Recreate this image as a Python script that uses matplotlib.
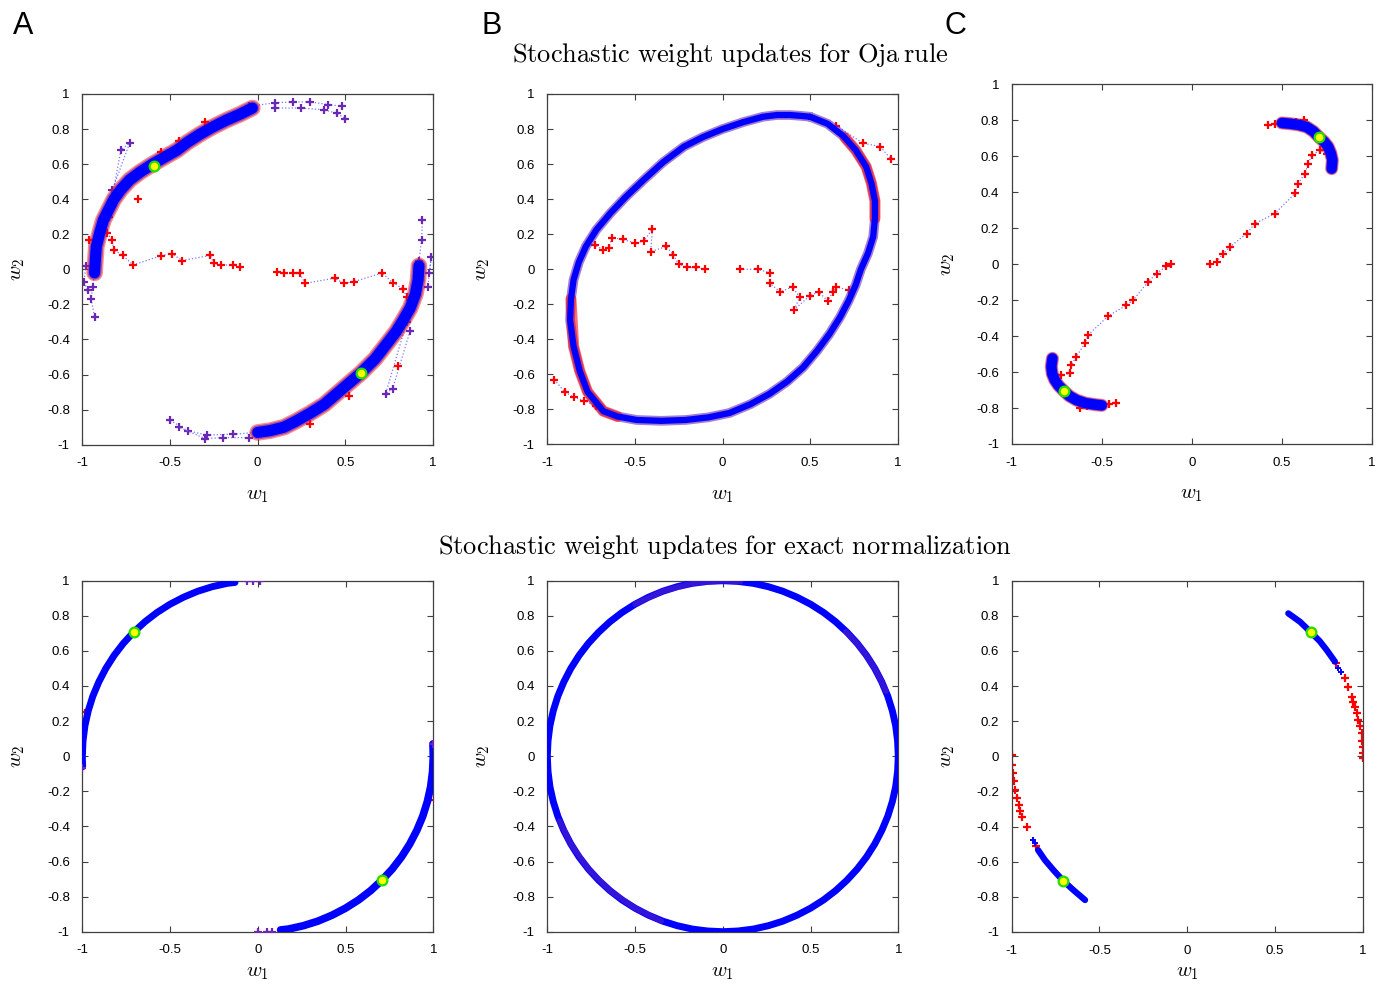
import matplotlib
matplotlib.use("Agg")
import matplotlib.pyplot as plt

plt.rcParams['mathtext.fontset'] = 'cm'
plt.rcParams['axes.unicode_minus'] = False
plt.rcParams['font.family'] = ['Liberation Sans', 'DejaVu Sans']
plt.rcParams['lines.solid_joinstyle'] = 'round'
plt.rcParams['lines.solid_capstyle'] = 'round'
plt.rcParams['path.simplify'] = False

BLUE = '#0000ff'
RED = '#ff0000'
PURPLE = '#6a28b4'
DOTS = '#7878ff'

# ---- Oja rule, panel A ----
oja_a_upper_w1 = [-0.93, -0.925, -0.92, -0.90, -0.88, -0.85, -0.82, -0.78, -0.73, -0.67,
                  -0.60, -0.53, -0.46, -0.40, -0.33, -0.26, -0.18, -0.10, -0.03]
oja_a_upper_w2 = [-0.02, 0.06, 0.13, 0.21, 0.28, 0.34, 0.40, 0.455, 0.51, 0.555,
                  0.60, 0.64, 0.68, 0.725, 0.77, 0.81, 0.85, 0.885, 0.92]
oja_a_lower_w1 = [0.92, 0.915, 0.90, 0.87, 0.83, 0.79, 0.74, 0.67, 0.59, 0.52, 0.45,
                  0.38, 0.30, 0.22, 0.15, 0.07, 0.00]
oja_a_lower_w2 = [0.02, -0.06, -0.14, -0.22, -0.29, -0.355, -0.42, -0.51, -0.59, -0.65,
                  -0.71, -0.77, -0.82, -0.865, -0.90, -0.92, -0.93]
oja_a_tails = [
    ([-0.05, 0.10, 0.20, 0.30, 0.40, 0.48], [0.93, 0.95, 0.955, 0.955, 0.94, 0.93]),
    ([0.10, 0.25, 0.38, 0.45, 0.50], [0.92, 0.92, 0.91, 0.89, 0.86]),
    ([-0.93, -0.94, -0.95, -0.93], [0.00, -0.10, -0.17, -0.27]),
    ([-0.98, -0.99, -0.97], [0.02, -0.07, -0.12]),
    ([-0.85, -0.78, -0.73, -0.83], [0.30, 0.68, 0.72, 0.45]),
    ([0.00, -0.14, -0.29, -0.40, -0.50], [-0.93, -0.94, -0.945, -0.92, -0.86]),
    ([-0.05, -0.20, -0.30, -0.45], [-0.96, -0.96, -0.965, -0.90]),
    ([0.92, 0.935, 0.94], [0.05, 0.17, 0.28]),
    ([0.98, 0.99, 0.97], [-0.02, 0.07, -0.10]),
    ([0.85, 0.73, 0.77, 0.87], [-0.30, -0.71, -0.68, -0.35]),
]
oja_a_red = [
    ([-0.10, -0.14, -0.21, -0.25, -0.27, -0.43, -0.49, -0.55, -0.71, -0.77, -0.82, -0.83, -0.86],
     [0.015, 0.025, 0.025, 0.034, 0.08, 0.05, 0.09, 0.078, 0.025, 0.08, 0.11, 0.17, 0.205]),
    ([0.11, 0.15, 0.20, 0.24, 0.27, 0.44, 0.49, 0.55, 0.71, 0.77, 0.83, 0.85],
     [-0.013, -0.02, -0.02, -0.023, -0.08, -0.05, -0.08, -0.07, -0.02, -0.076, -0.11, -0.16]),
]
oja_a_specks_w1 = [-0.55, -0.45, -0.68, -0.96, -0.30, 0.80, 0.52, 0.40, 0.88, 0.30]
oja_a_specks_w2 = [0.67, 0.73, 0.40, 0.17, 0.84, -0.55, -0.72, -0.77, -0.17, -0.88]
oja_a_fixed = ([-0.59, 0.59], [0.59, -0.59])

# ---- Oja rule, panel B ----
oja_b_loop_w1 = [0.50, 0.60, 0.69, 0.76, 0.82, 0.85, 0.87, 0.87, 0.86, 0.83, 0.79, 0.76,
                 0.72, 0.67, 0.61, 0.54, 0.46, 0.37, 0.27, 0.16, 0.04, -0.08, -0.21, -0.35,
                 -0.49, -0.60, -0.68, -0.77, -0.815, -0.85, -0.87, -0.865, -0.85, -0.82,
                 -0.78, -0.72, -0.64, -0.55, -0.45, -0.34, -0.22, -0.11, 0.00, 0.12, 0.23,
                 0.31, 0.385, 0.45, 0.50]
oja_b_loop_w2 = [0.87, 0.83, 0.76, 0.68, 0.585, 0.49, 0.39, 0.29, 0.185, 0.09, 0.00, -0.09,
                 -0.18, -0.275, -0.37, -0.465, -0.56, -0.64, -0.71, -0.77, -0.82, -0.845,
                 -0.86, -0.865, -0.86, -0.84, -0.81, -0.70, -0.58, -0.44, -0.29, -0.17,
                 -0.06, 0.04, 0.13, 0.225, 0.32, 0.415, 0.51, 0.61, 0.70, 0.755, 0.80, 0.84,
                 0.87, 0.88, 0.88, 0.875, 0.87]
oja_b_red = [
    ([-0.10, -0.15, -0.20, -0.25, -0.28, -0.32, -0.41, -0.40, -0.45, -0.50, -0.57, -0.63,
      -0.65, -0.68, -0.73],
     [0.00, 0.01, 0.01, 0.03, 0.08, 0.13, 0.10, 0.23, 0.16, 0.15, 0.17, 0.18, 0.12, 0.11, 0.14]),
    ([0.10, 0.20, 0.27, 0.27, 0.33, 0.40, 0.44, 0.41, 0.50, 0.55, 0.60, 0.63, 0.65, 0.72],
     [0.00, 0.00, -0.02, -0.08, -0.13, -0.10, -0.16, -0.23, -0.15, -0.13, -0.18, -0.13,
      -0.10, -0.12]),
    ([0.65, 0.80, 0.90, 0.96], [0.82, 0.72, 0.70, 0.63]),
    ([-0.96, -0.90, -0.85, -0.79, -0.72], [-0.63, -0.70, -0.73, -0.75, -0.78]),
]
oja_b_fringe_w1 = [0.70, 0.76, 0.82, 0.85, 0.87, 0.87]
oja_b_fringe_w2 = [0.75, 0.68, 0.585, 0.49, 0.39, 0.29]
oja_b_fringe2_w1 = [-0.865, -0.85, -0.815, -0.77, -0.68, -0.60]
oja_b_fringe2_w2 = [-0.17, -0.44, -0.58, -0.70, -0.81, -0.84]

# ---- Oja rule, panel C ----
oja_c_upper_w1 = [0.50, 0.544, 0.59, 0.637, 0.675, 0.705, 0.735, 0.757, 0.772, 0.78, 0.776]
oja_c_upper_w2 = [0.785, 0.781, 0.775, 0.763, 0.738, 0.707, 0.68, 0.652, 0.615, 0.578, 0.531]
oja_c_lower_w1 = [-0.50, -0.53, -0.59, -0.64, -0.68, -0.709, -0.74, -0.761, -0.775, -0.78,
                  -0.774]
oja_c_lower_w2 = [-0.785, -0.782, -0.773, -0.756, -0.733, -0.706, -0.675, -0.644, -0.61,
                  -0.57, -0.524]
oja_c_red = [
    ([0.10, 0.137, 0.174, 0.211, 0.304, 0.35, 0.461, 0.572, 0.59, 0.628, 0.646, 0.665,
      0.711, 0.748],
     [0.00, 0.013, 0.059, 0.096, 0.17, 0.226, 0.281, 0.393, 0.448, 0.504, 0.559, 0.606,
      0.633, 0.615]),
    ([-0.113, -0.141, -0.196, -0.243, -0.326, -0.363, -0.465, -0.576, -0.594, -0.641,
      -0.669, -0.678, -0.724, -0.77],
     [0.00, -0.011, -0.052, -0.098, -0.20, -0.228, -0.289, -0.394, -0.441, -0.515, -0.561,
      -0.607, -0.617, -0.60]),
    ([0.42, 0.46, 0.50, 0.58, 0.62], [0.772, 0.78, 0.785, 0.79, 0.80]),
    ([-0.42, -0.46, -0.50, -0.58, -0.62], [-0.772, -0.78, -0.785, -0.79, -0.80]),
]
oja_c_fixed = ([0.705, -0.709], [0.707, -0.706])

# ---- exact normalization, panel A ----
norm_a_upper_w1 = [-0.998, -1.0, -0.996, -0.985, -0.966, -0.94, -0.906, -0.866, -0.819,
                   -0.766, -0.707, -0.643, -0.574, -0.50, -0.423, -0.342, -0.259, -0.174,
                   -0.13]
norm_a_upper_w2 = [-0.06, 0.00, 0.087, 0.174, 0.259, 0.342, 0.423, 0.50, 0.574, 0.643,
                   0.707, 0.766, 0.819, 0.866, 0.906, 0.94, 0.966, 0.985, 0.99]
norm_a_lower_w1 = [0.998, 1.0, 0.996, 0.985, 0.966, 0.94, 0.906, 0.866, 0.819, 0.766,
                   0.707, 0.643, 0.574, 0.50, 0.423, 0.342, 0.259, 0.174, 0.13]
norm_a_lower_w2 = [0.07, 0.00, -0.087, -0.174, -0.259, -0.342, -0.423, -0.50, -0.574,
                   -0.643, -0.707, -0.766, -0.819, -0.866, -0.906, -0.94, -0.966, -0.985,
                   -0.99]
norm_a_red = [([-0.998, -0.999, -0.995, -0.985], [0.02, 0.08, 0.15, 0.25]),
              ([0.999, 0.998, 0.993, 0.98], [-0.02, -0.10, -0.17, -0.25])]
norm_a_purple_w1 = [-0.06, -0.03, 0.01, 0.0, 0.05, 0.08, -0.999, 0.999]
norm_a_purple_w2 = [1.0, 1.0, 1.0, -1.0, -1.0, -1.0, -0.07, 0.07]
norm_a_fixed = ([-0.707, 0.707], [0.707, -0.707])

# ---- exact normalization, panel B ----
norm_b_w1 = [1.0, 0.996, 0.985, 0.966, 0.94, 0.906, 0.866, 0.819, 0.766, 0.707, 0.643,
             0.574, 0.5, 0.423, 0.342, 0.259, 0.174, 0.087, 0.0, -0.087, -0.174, -0.259,
             -0.342, -0.423, -0.5, -0.574, -0.643, -0.707, -0.766, -0.819, -0.866, -0.906,
             -0.94, -0.966, -0.985, -0.996, -1.0, -0.996, -0.985, -0.966, -0.94, -0.906,
             -0.866, -0.819, -0.766, -0.707, -0.643, -0.574, -0.5, -0.423, -0.342, -0.259,
             -0.174, -0.087, 0.0, 0.087, 0.174, 0.259, 0.342, 0.423, 0.5, 0.574, 0.643,
             0.707, 0.766, 0.819, 0.866, 0.906, 0.94, 0.966, 0.985, 0.996, 1.0]
norm_b_w2 = [0.0, 0.087, 0.174, 0.259, 0.342, 0.423, 0.5, 0.574, 0.643, 0.707, 0.766,
             0.819, 0.866, 0.906, 0.94, 0.966, 0.985, 0.996, 1.0, 0.996, 0.985, 0.966,
             0.94, 0.906, 0.866, 0.819, 0.766, 0.707, 0.643, 0.574, 0.5, 0.423, 0.342,
             0.259, 0.174, 0.087, 0.0, -0.087, -0.174, -0.259, -0.342, -0.423, -0.5,
             -0.574, -0.643, -0.707, -0.766, -0.819, -0.866, -0.906, -0.94, -0.966,
             -0.985, -0.996, -1.0, -0.996, -0.985, -0.966, -0.94, -0.906, -0.866, -0.819,
             -0.766, -0.707, -0.643, -0.574, -0.5, -0.423, -0.342, -0.259, -0.174, -0.087,
             0.0]
norm_b_purple = [([0.70, 0.766, 0.819, 0.866, 0.906, 0.93], [0.71, 0.643, 0.574, 0.50, 0.423, 0.37]),
                 ([-0.93, -0.866, -0.766, -0.643, -0.50, -0.35], [-0.37, -0.50, -0.643, -0.766, -0.866, -0.94]),
                 ([-0.50, -0.342, -0.174, 0.0, 0.10], [0.866, 0.94, 0.985, 1.0, 0.995])]

# ---- exact normalization, panel C ----
norm_c_upper_w1 = [0.576, 0.643, 0.705, 0.755, 0.795, 0.842]
norm_c_upper_w2 = [0.814, 0.766, 0.706, 0.656, 0.605, 0.539]
norm_c_lower_w1 = [-0.582, -0.643, -0.705, -0.76, -0.811, -0.85]
norm_c_lower_w2 = [-0.818, -0.766, -0.71, -0.65, -0.59, -0.533]
norm_c_red = [
    ([0.85, 0.90, 0.918, 0.937, 0.946, 0.956, 0.965, 0.975, 0.985, 0.994, 0.998, 1.0, 1.0, 1.0],
     [0.53, 0.444, 0.397, 0.34, 0.31, 0.283, 0.245, 0.207, 0.17, 0.131, 0.09, 0.055, 0.02,
      -0.011]),
    ([-0.86, -0.91, -0.94, -0.95, -0.96, -0.97, -0.979, -0.986, -0.992, -0.997, -1.0],
     [-0.51, -0.40, -0.343, -0.31, -0.277, -0.235, -0.19, -0.14, -0.097, -0.05, 0.008]),
]
norm_c_blue_w1 = [0.86, 0.875, -0.865, -0.876]
norm_c_blue_w2 = [0.505, 0.48, -0.495, -0.476]
norm_c_fixed = ([0.705, -0.705], [0.706, -0.71])

ticks_x = [-1, -0.5, 0, 0.5, 1]
ticks_x_labels = ['-1', '-0.5', '0', '0.5', '1']
ticks_y = [-1, -0.8, -0.6, -0.4, -0.2, 0, 0.2, 0.4, 0.6, 0.8, 1]
ticks_y_labels = ['-1', '-0.8', '-0.6', '-0.4', '-0.2', '0', '0.2', '0.4', '0.6', '0.8', '1']


def setup(ax, xpad):
    ax.set_xlim(-1, 1)
    ax.set_ylim(-1, 1)
    ax.set_xticks(ticks_x)
    ax.set_xticklabels(ticks_x_labels)
    ax.set_yticks(ticks_y)
    ax.set_yticklabels(ticks_y_labels)
    ax.tick_params(direction='in', top=True, right=True, length=4, width=0.8,
                   color='#404040', labelsize=9.5, pad=9)
    for s in ax.spines.values():
        s.set_color('#404040')
        s.set_linewidth(0.9)
    ax.set_xlabel('$w_1$', fontsize=15, labelpad=xpad)
    ax.set_ylabel('$w_2$', fontsize=15, labelpad=14)


def band(ax, w1, w2, lw, fringe=0.0):
    if fringe:
        ax.plot(w1, w2, color=RED, lw=lw + fringe, alpha=0.45, zorder=2)
        ax.plot(w1, w2, color=PURPLE, lw=lw + fringe * 0.5, alpha=0.6, zorder=2)
    ax.plot(w1, w2, color=BLUE, lw=lw, zorder=3)


def walk(ax, w1, w2, color, ms=6):
    ax.plot(w1, w2, ls=':', color=DOTS, lw=0.9, marker='+', ms=ms, mec=color, mew=1.6,
            zorder=2)


def fixed(ax, pts):
    ax.plot(pts[0], pts[1], ls='none', marker='o', ms=7, mfc='#ffff00', mec='#22dd00',
            mew=1.6, zorder=5)


fig = plt.figure(figsize=(13.81, 9.84), dpi=100)
W, H = 1381.0, 984.0


def add_axes(x0, y0, x1, y1):
    return fig.add_axes([x0 / W, 1 - y1 / H, (x1 - x0) / W, (y1 - y0) / H])


ax_a = add_axes(82.3, 94.0, 433.0, 444.7)
ax_b = add_axes(547.3, 94.0, 897.7, 444.5)
ax_c = add_axes(1011.7, 84.3, 1372.0, 444.0)
ax_d = add_axes(82.3, 580.7, 433.3, 931.7)
ax_e = add_axes(547.3, 580.7, 898.3, 931.7)
ax_f = add_axes(1011.7, 580.7, 1362.7, 932.0)

for ax in (ax_a, ax_b, ax_c):
    setup(ax, 12)
for ax in (ax_d, ax_e, ax_f):
    setup(ax, 5)

# Oja A
for w1, w2 in oja_a_red:
    walk(ax_a, w1, w2, RED)
for w1, w2 in oja_a_tails:
    walk(ax_a, w1, w2, PURPLE)
band(ax_a, oja_a_upper_w1, oja_a_upper_w2, 8, fringe=4)
band(ax_a, oja_a_lower_w1, oja_a_lower_w2, 8, fringe=4)
ax_a.plot(oja_a_specks_w1, oja_a_specks_w2, ls='none', marker='+', ms=6, mec=RED, mew=1.6,
          zorder=2)
fixed(ax_a, oja_a_fixed)

# Oja B
for w1, w2 in oja_b_red:
    walk(ax_b, w1, w2, RED)
ax_b.plot(oja_b_loop_w1, oja_b_loop_w2, color=PURPLE, lw=7, alpha=0.6, zorder=2)
ax_b.plot(oja_b_fringe_w1, oja_b_fringe_w2, color=RED, lw=8, alpha=0.55, zorder=2)
ax_b.plot(oja_b_fringe2_w1, oja_b_fringe2_w2, color=RED, lw=8, alpha=0.55, zorder=2)
band(ax_b, oja_b_loop_w1, oja_b_loop_w2, 4.5)

# Oja C
for w1, w2 in oja_c_red:
    walk(ax_c, w1, w2, RED)
band(ax_c, oja_c_upper_w1, oja_c_upper_w2, 7.5, fringe=2)
band(ax_c, oja_c_lower_w1, oja_c_lower_w2, 7.5, fringe=2)
fixed(ax_c, oja_c_fixed)

# exact normalization A
for w1, w2 in norm_a_red:
    walk(ax_d, w1, w2, RED, ms=5)
band(ax_d, norm_a_upper_w1, norm_a_upper_w2, 5)
band(ax_d, norm_a_lower_w1, norm_a_lower_w2, 5.5)
ax_d.plot(norm_a_purple_w1, norm_a_purple_w2, ls='none', marker='+', ms=6, mec=PURPLE,
          mew=1.6, zorder=3)
fixed(ax_d, norm_a_fixed)

# exact normalization B
band(ax_e, norm_b_w1, norm_b_w2, 5)
for w1, w2 in norm_b_purple:
    ax_e.plot(w1, w2, color=PURPLE, lw=4, alpha=0.5, zorder=4)

# exact normalization C
for w1, w2 in norm_c_red:
    ax_f.plot(w1, w2, ls='none', marker='+', ms=6, mec=RED, mew=1.6, zorder=2)
band(ax_f, norm_c_upper_w1, norm_c_upper_w2, 4.5)
band(ax_f, norm_c_lower_w1, norm_c_lower_w2, 4.5)
ax_f.plot(norm_c_blue_w1, norm_c_blue_w2, ls='none', marker='+', ms=5, mec=BLUE, mew=1.4)
fixed(ax_f, norm_c_fixed)

# panel letters and row titles
for letter, x in (('A', 13), ('B', 481), ('C', 945)):
    fig.text(x / W, 1 - 34 / H, letter, fontsize=22, ha='left', va='baseline')
fig.text(730 / W, 1 - 62 / H, r'$\mathrm{Stochastic\ weight\ updates\ for\ Oja\,rule}$',
         fontsize=19, ha='center', va='baseline')
fig.text(725 / W, 1 - 554 / H,
         r'$\mathrm{Stochastic\ weight\ updates\ for\ exact\ normalization}$',
         fontsize=19, ha='center', va='baseline')

fig.savefig('out.png', dpi=100)
